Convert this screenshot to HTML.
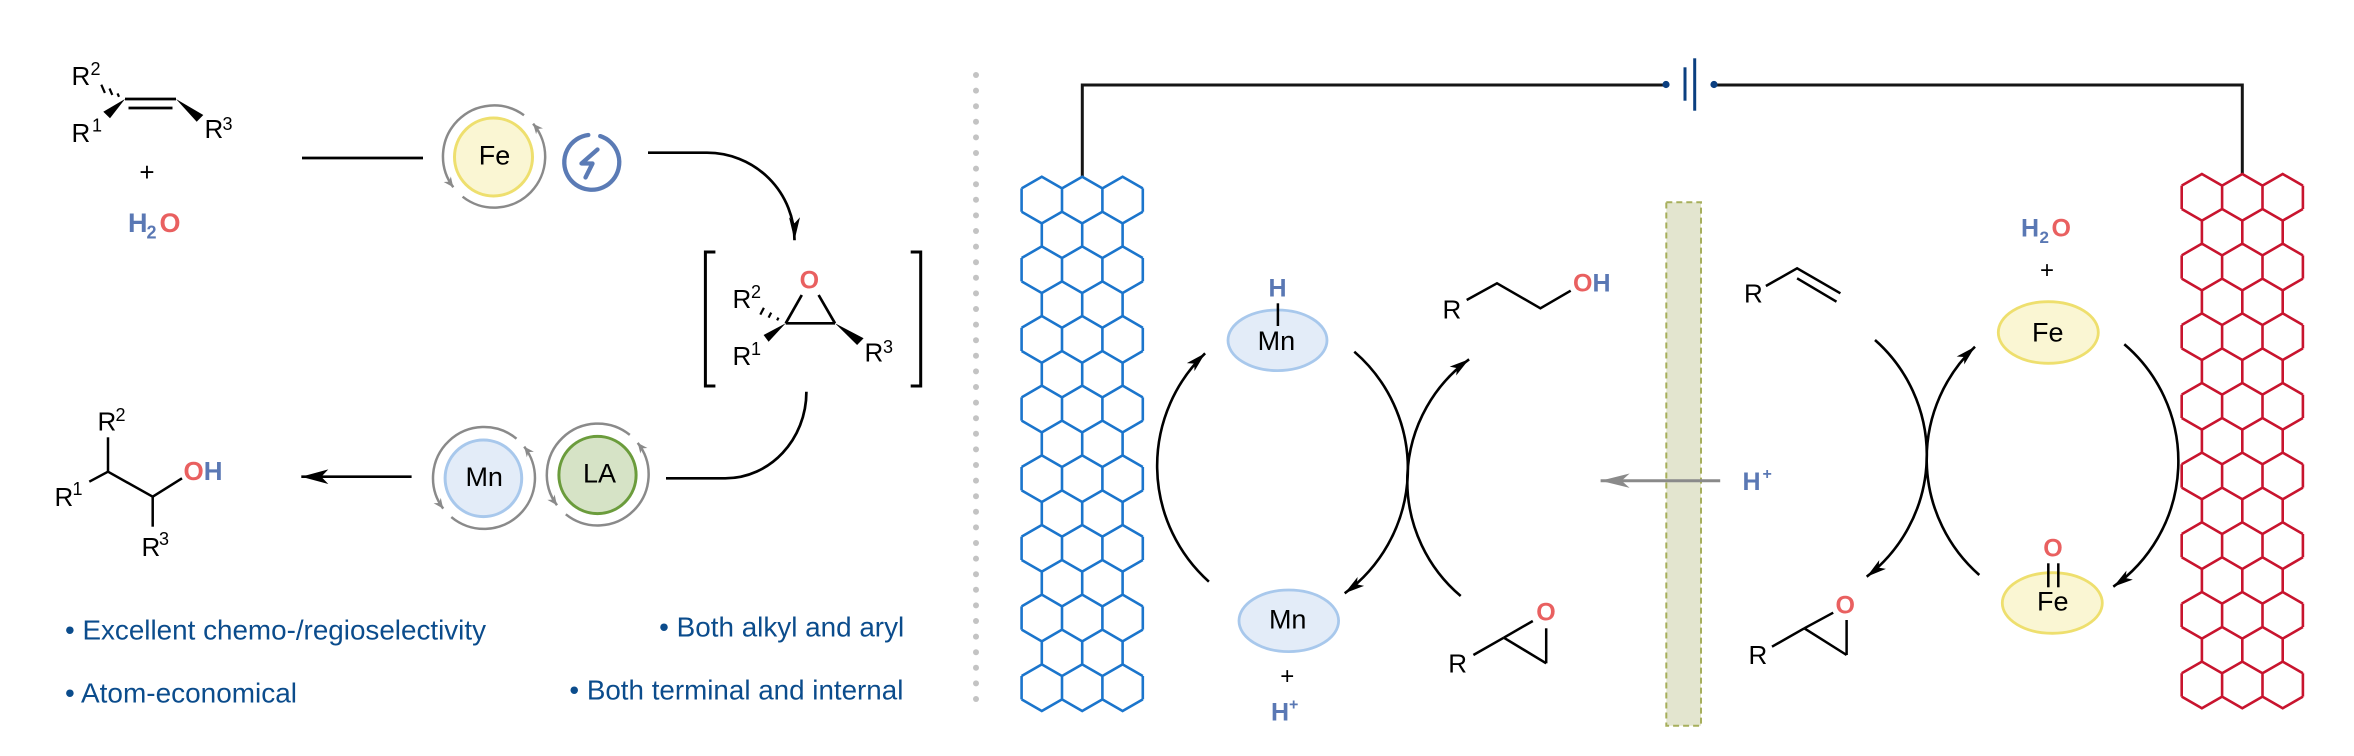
<!DOCTYPE html>
<html>
<head>
<meta charset="utf-8">
<style>
html,body{margin:0;padding:0;background:#fff;}
svg{display:block;}
text{font-family:"Liberation Sans",Arial,sans-serif;}
.b{font-weight:bold;}
</style>
</head>
<body>
<svg width="2354" height="756" viewBox="0 0 2354 756" xmlns="http://www.w3.org/2000/svg">
<defs>
  <marker id="ah" markerUnits="userSpaceOnUse" viewBox="-24 -8 28 16" refX="0" refY="0" markerWidth="28" markerHeight="16" orient="auto">
    <path d="M0,0 L-20,-5.5 L-15,0 L-20,5.5 Z" fill="#000"/>
  </marker>
  <marker id="ahL" markerUnits="userSpaceOnUse" viewBox="-30 -10 34 20" refX="0" refY="0" markerWidth="34" markerHeight="20" orient="auto">
    <path d="M0,0 L-27,-7.3 L-20,0 L-27,7.3 Z" fill="#000"/>
  </marker>
  <marker id="ahC" markerUnits="userSpaceOnUse" viewBox="-26 -8 30 16" refX="0" refY="0" markerWidth="30" markerHeight="16" orient="auto">
    <path d="M0,0 L-23,-5.5 L-17,0 L-23,5.5 Z" fill="#000"/>
  </marker>
  <marker id="ahG" markerUnits="userSpaceOnUse" viewBox="-32 -10 36 20" refX="0" refY="0" markerWidth="36" markerHeight="20" orient="auto">
    <path d="M0,0 L-29,-7.2 L-21,0 L-29,7.2 Z" fill="#8a8a8a"/>
  </marker>
  <marker id="ahS" markerUnits="userSpaceOnUse" viewBox="-13 -6 16 12" refX="0" refY="0" markerWidth="16" markerHeight="12" orient="auto">
    <path d="M0,0 L-10,-4.5 L-7,0 L-10,4.5 Z" fill="#8a8a8a"/>
  </marker>
  <path id="hr" d="M0,11.67 L20.2,0 L40.4,11.67 L60.6,0 L80.8,11.67 L101,0 L121.2,11.67
     M0,11.67 V35 M40.4,11.67 V35 M80.8,11.67 V35 M121.2,11.67 V35
     M0,35 L20.2,46.67 L40.4,35 L60.6,46.67 L80.8,35 L101,46.67 L121.2,35"/>
  <path id="hc" d="M20.2,46.67 V69.66 M60.6,46.67 V69.66 M101,46.67 V69.66"/>
</defs>

<!-- ================= LEFT PANEL ================= -->
<!-- alkene -->
<g stroke="#000" stroke-width="2.7" fill="none">
  <line x1="125" y1="99" x2="176" y2="99"/>
  <line x1="128.5" y1="108" x2="172.5" y2="108"/>
</g>
<polygon points="125,99 103.3,111.7 110,118.3" fill="#000"/>
<polygon points="176,99 196.7,121.7 203.3,115" fill="#000"/>
<g stroke="#000" stroke-width="2.2">
  <line x1="117.5" y1="93.4" x2="119" y2="96.8"/>
  <line x1="109.5" y1="88.5" x2="112.3" y2="94.9"/>
  <line x1="101.3" y1="84.7" x2="104.9" y2="92.9"/>
</g>
<text x="71.5" y="85" font-size="26">R</text><text x="90.5" y="75" font-size="18">2</text>
<text x="71.5" y="142" font-size="26">R</text><text x="92" y="131.7" font-size="18">1</text>
<text x="204.5" y="138" font-size="26">R</text><text x="222.5" y="130" font-size="18">3</text>
<text x="147" y="181" font-size="26" text-anchor="middle">+</text>
<text x="128" y="232" font-size="27" class="b" fill="#5a78b4">H</text>
<text x="146.5" y="238.5" font-size="18" class="b" fill="#5a78b4">2</text>
<text x="159.5" y="232" font-size="27" class="b" fill="#e96060">O</text>

<line x1="302" y1="158" x2="423" y2="158" stroke="#000" stroke-width="2.7"/>

<!-- Fe catalyst -->
<circle cx="493.5" cy="157" r="39" fill="#faf6d3" stroke="#eedf6e" stroke-width="3"/>
<g fill="none" stroke="#8a8a8a" stroke-width="2.5">
  <path d="M524,115.2 A51,51 0 0 0 453.3,187.2" marker-end="url(#ahS)"/>
  <path d="M462.6,196.7 A51,51 0 0 0 533.1,123.7" marker-end="url(#ahS)"/>
</g>
<text x="494.5" y="164.3" font-size="27" text-anchor="middle">Fe</text>

<!-- lightning -->
<g fill="none" stroke="#5b7bb5" stroke-width="4.3" stroke-linecap="round" stroke-linejoin="round">
  <path d="M600.2,136.1 A27.5,27.5 0 1 1 588.3,135.0"/>
  <path d="M597.5,149.5 L581.5,163.5 L592.5,163.5 L585.5,177.5"/>
</g>

<!-- arrow to epoxide -->
<path d="M648,152.7 H707 A87.5,87.5 0 0 1 794.5,240.2" fill="none" stroke="#000" stroke-width="2.7" marker-end="url(#ahC)"/>

<!-- brackets -->
<g fill="none" stroke="#000" stroke-width="3">
  <path d="M715.4,252 H705.4 V386 H715.4"/>
  <path d="M910.7,252 H920.7 V386 H910.7"/>
</g>
<!-- epoxide in bracket -->
<g stroke="#000" stroke-width="2.7" fill="none">
  <line x1="801.8" y1="295" x2="785.7" y2="323.3"/>
  <line x1="818.6" y1="295" x2="835" y2="323.3"/>
  <line x1="785.7" y1="323.3" x2="835" y2="323.3"/>
</g>
<polygon points="785.7,323.3 763.6,335 768.6,341.7" fill="#000"/>
<polygon points="835,323.3 857.1,345 863.6,338.3" fill="#000"/>
<g stroke="#000" stroke-width="2.2">
  <line x1="778.5" y1="317.6" x2="777.1" y2="320.4"/>
  <line x1="771.2" y1="312.6" x2="768.6" y2="317.6"/>
  <line x1="763.9" y1="307.8" x2="760.3" y2="314.6"/>
</g>
<text x="809.3" y="288.5" font-size="25" class="b" fill="#e96060" text-anchor="middle">O</text>
<text x="732.5" y="308" font-size="26">R</text><text x="751" y="298" font-size="18">2</text>
<text x="732.5" y="365" font-size="26">R</text><text x="751" y="355" font-size="18">1</text>
<text x="864.5" y="361.7" font-size="26">R</text><text x="883" y="353" font-size="18">3</text>

<!-- bottom curve -->
<path d="M806.4,391.7 C806.4,439.5 770,478.3 725.3,478.3 H666" fill="none" stroke="#000" stroke-width="2.7"/>

<!-- LA -->
<circle cx="597.5" cy="475" r="38.6" fill="#d6e3c6" stroke="#6b9c3c" stroke-width="3"/>
<g fill="none" stroke="#8a8a8a" stroke-width="2.5">
  <path d="M629.8,434.9 A51,51 0 0 0 557,505.2" marker-end="url(#ahS)"/>
  <path d="M565.8,514.3 A51,51 0 0 0 637.7,442.9" marker-end="url(#ahS)"/>
</g>
<text x="599.5" y="482.7" font-size="27" text-anchor="middle">LA</text>

<!-- Mn -->
<circle cx="483.4" cy="478.3" r="38.3" fill="#e3ecf8" stroke="#a8c8ec" stroke-width="3"/>
<g fill="none" stroke="#8a8a8a" stroke-width="2.5">
  <path d="M516.5,438.7 A51,51 0 0 0 443.2,508.6" marker-end="url(#ahS)"/>
  <path d="M451.3,517.1 A51,51 0 0 0 524.2,446.6" marker-end="url(#ahS)"/>
</g>
<text x="484.2" y="486" font-size="27" text-anchor="middle">Mn</text>

<!-- arrow to product -->
<line x1="411.6" y1="476.7" x2="301.3" y2="476.7" stroke="#000" stroke-width="2.7" marker-end="url(#ahL)"/>

<!-- product -->
<g stroke="#000" stroke-width="2.5" fill="none">
  <line x1="108" y1="437.3" x2="108" y2="471.7"/>
  <line x1="108" y1="471.7" x2="89.3" y2="481.7"/>
  <line x1="108" y1="471.7" x2="152.7" y2="496.7"/>
  <line x1="152.7" y1="496.7" x2="182" y2="478.3"/>
  <line x1="152.7" y1="496.7" x2="152.7" y2="526.7"/>
</g>
<text x="97.5" y="430.7" font-size="26">R</text><text x="115.5" y="421" font-size="18">2</text>
<text x="54.5" y="506" font-size="26">R</text><text x="72.5" y="495" font-size="18">1</text>
<text x="141.5" y="556" font-size="26">R</text><text x="159" y="545" font-size="18">3</text>
<text x="183.5" y="480" font-size="26" class="b"><tspan fill="#e96060">O</tspan><tspan fill="#5a78b4">H</tspan></text>

<!-- bullets -->
<g fill="#0b4c8c" font-size="27.5">
  <text x="65" y="639.3" textLength="421" lengthAdjust="spacingAndGlyphs">• Excellent chemo-/regioselectivity</text>
  <text x="65" y="702.7" textLength="232" lengthAdjust="spacingAndGlyphs">• Atom-economical</text>
  <text x="659.2" y="636.7" textLength="245" lengthAdjust="spacingAndGlyphs">• Both alkyl and aryl</text>
  <text x="569.4" y="699.3" textLength="334" lengthAdjust="spacingAndGlyphs">• Both terminal and internal</text>
</g>

<!-- dotted divider -->
<g fill="#c3c3c3">
<circle cx="976" cy="75" r="3"/><circle cx="976" cy="90.6" r="3"/><circle cx="976" cy="106.2" r="3"/><circle cx="976" cy="121.8" r="3"/><circle cx="976" cy="137.4" r="3"/><circle cx="976" cy="153" r="3"/><circle cx="976" cy="168.6" r="3"/><circle cx="976" cy="184.2" r="3"/><circle cx="976" cy="199.8" r="3"/><circle cx="976" cy="215.4" r="3"/><circle cx="976" cy="231" r="3"/><circle cx="976" cy="246.6" r="3"/><circle cx="976" cy="262.2" r="3"/><circle cx="976" cy="277.8" r="3"/><circle cx="976" cy="293.4" r="3"/><circle cx="976" cy="309" r="3"/><circle cx="976" cy="324.6" r="3"/><circle cx="976" cy="340.2" r="3"/><circle cx="976" cy="355.8" r="3"/><circle cx="976" cy="371.4" r="3"/><circle cx="976" cy="387" r="3"/><circle cx="976" cy="402.6" r="3"/><circle cx="976" cy="418.2" r="3"/><circle cx="976" cy="433.8" r="3"/><circle cx="976" cy="449.4" r="3"/><circle cx="976" cy="465" r="3"/><circle cx="976" cy="480.6" r="3"/><circle cx="976" cy="496.2" r="3"/><circle cx="976" cy="511.8" r="3"/><circle cx="976" cy="527.4" r="3"/><circle cx="976" cy="543" r="3"/><circle cx="976" cy="558.6" r="3"/><circle cx="976" cy="574.2" r="3"/><circle cx="976" cy="589.8" r="3"/><circle cx="976" cy="605.4" r="3"/><circle cx="976" cy="621" r="3"/><circle cx="976" cy="636.6" r="3"/><circle cx="976" cy="652.2" r="3"/><circle cx="976" cy="667.8" r="3"/><circle cx="976" cy="683.4" r="3"/><circle cx="976" cy="699" r="3"/>
</g>

<!-- ================= RIGHT PANEL ================= -->
<!-- wires -->
<g fill="none" stroke="#151515" stroke-width="3">
  <path d="M1082.3,177 V85 H1666"/>
  <path d="M1714,85 H2242.3 V174.5"/>
</g>
<!-- battery -->
<g stroke="#0b3f80" stroke-width="3">
  <line x1="1685" y1="67.3" x2="1685" y2="100.7"/>
  <line x1="1694.7" y1="58.3" x2="1694.7" y2="110.7"/>
</g>
<circle cx="1666" cy="84.5" r="3.6" fill="#0b3f80"/>
<circle cx="1714" cy="84.5" r="3.6" fill="#0b3f80"/>

<!-- blue electrode -->
<g fill="none" stroke="#1b75cc" stroke-width="2.6" stroke-linejoin="miter">
  <use href="#hr" transform="translate(1021.6,176.7)"/><use href="#hc" transform="translate(1021.6,176.7)"/>
  <use href="#hr" transform="translate(1021.6,246.36)"/><use href="#hc" transform="translate(1021.6,246.36)"/>
  <use href="#hr" transform="translate(1021.6,316.02)"/><use href="#hc" transform="translate(1021.6,316.02)"/>
  <use href="#hr" transform="translate(1021.6,385.68)"/><use href="#hc" transform="translate(1021.6,385.68)"/>
  <use href="#hr" transform="translate(1021.6,455.34)"/><use href="#hc" transform="translate(1021.6,455.34)"/>
  <use href="#hr" transform="translate(1021.6,525)"/><use href="#hc" transform="translate(1021.6,525)"/>
  <use href="#hr" transform="translate(1021.6,594.66)"/><use href="#hc" transform="translate(1021.6,594.66)"/>
  <use href="#hr" transform="translate(1021.6,664.32)"/>
</g>
<!-- red electrode -->
<g fill="none" stroke="#c8142e" stroke-width="2.6" stroke-linejoin="miter">
  <use href="#hr" transform="translate(2181.7,174)"/><use href="#hc" transform="translate(2181.7,174)"/>
  <use href="#hr" transform="translate(2181.7,243.66)"/><use href="#hc" transform="translate(2181.7,243.66)"/>
  <use href="#hr" transform="translate(2181.7,313.32)"/><use href="#hc" transform="translate(2181.7,313.32)"/>
  <use href="#hr" transform="translate(2181.7,382.98)"/><use href="#hc" transform="translate(2181.7,382.98)"/>
  <use href="#hr" transform="translate(2181.7,452.64)"/><use href="#hc" transform="translate(2181.7,452.64)"/>
  <use href="#hr" transform="translate(2181.7,522.3)"/><use href="#hc" transform="translate(2181.7,522.3)"/>
  <use href="#hr" transform="translate(2181.7,591.96)"/><use href="#hc" transform="translate(2181.7,591.96)"/>
  <use href="#hr" transform="translate(2181.7,661.62)"/>
</g>

<!-- membrane -->
<rect x="1666.3" y="202.3" width="34.7" height="523.4" fill="#e3e5cf" stroke="#a7af5c" stroke-width="2" stroke-dasharray="6,4"/>
<!-- H+ arrow -->
<line x1="1720.2" y1="480.7" x2="1600.6" y2="480.7" stroke="#8a8a8a" stroke-width="3" marker-end="url(#ahG)"/>
<text x="1742.5" y="490" font-size="25" class="b" fill="#5a78b4">H</text>
<text x="1762.5" y="479" font-size="16" class="b" fill="#5a78b4">+</text>

<!-- Mn-H -->
<ellipse cx="1277.5" cy="340.3" rx="49.5" ry="30.3" fill="#e3ecf8" stroke="#a8c8ec" stroke-width="2.8"/>
<line x1="1277.9" y1="303.3" x2="1277.9" y2="326" stroke="#000" stroke-width="2.5"/>
<text x="1277.5" y="296.7" font-size="25" class="b" fill="#5a78b4" text-anchor="middle">H</text>
<text x="1276.4" y="350" font-size="27" text-anchor="middle">Mn</text>

<!-- Mn -->
<ellipse cx="1288.8" cy="620.8" rx="49.8" ry="30.8" fill="#e3ecf8" stroke="#a8c8ec" stroke-width="2.8"/>
<text x="1287.7" y="628.3" font-size="27" text-anchor="middle">Mn</text>
<text x="1287.2" y="684" font-size="24" text-anchor="middle">+</text>
<text x="1271" y="720.7" font-size="25" class="b" fill="#5a78b4">H</text>
<text x="1289" y="709.5" font-size="16" class="b" fill="#5a78b4">+</text>

<!-- alcohol -->
<polyline points="1466.7,300 1497,283.3 1540.4,308.3 1570.7,290.7" fill="none" stroke="#000" stroke-width="2.5"/>
<text x="1442.5" y="318.3" font-size="26">R</text>
<text x="1573" y="291.7" font-size="25" class="b"><tspan fill="#e96060">O</tspan><tspan fill="#5a78b4">H</tspan></text>

<!-- epoxide left -->
<g stroke="#000" stroke-width="2.5" fill="none">
  <line x1="1473.4" y1="655" x2="1503.8" y2="637.7"/>
  <line x1="1503.8" y1="637.7" x2="1532.8" y2="621"/>
  <line x1="1503.8" y1="637.7" x2="1546.2" y2="663.3"/>
  <line x1="1546.2" y1="628.3" x2="1546.2" y2="663.3"/>
</g>
<text x="1448.3" y="672.7" font-size="26">R</text>
<text x="1546" y="620.7" font-size="25" class="b" fill="#e96060" text-anchor="middle">O</text>

<!-- alkene right -->
<g stroke="#000" stroke-width="2.5" fill="none">
  <polyline points="1765.9,286 1797.1,268.3 1840.4,293.3"/>
  <line x1="1797.1" y1="278.3" x2="1836.5" y2="301.7"/>
</g>
<text x="1744" y="302.7" font-size="26">R</text>

<!-- H2O right -->
<text x="2021" y="236.7" font-size="25" class="b" fill="#5a78b4">H</text>
<text x="2039.5" y="243" font-size="17" class="b" fill="#5a78b4">2</text>
<text x="2051.5" y="236.7" font-size="25" class="b" fill="#e96060">O</text>
<text x="2047" y="278" font-size="24" text-anchor="middle">+</text>

<!-- Fe top -->
<ellipse cx="2048.3" cy="332.5" rx="50" ry="30.8" fill="#faf6d3" stroke="#eedf6e" stroke-width="2.8"/>
<text x="2047.8" y="341.7" font-size="27" text-anchor="middle">Fe</text>

<!-- Fe=O -->
<ellipse cx="2052.3" cy="603" rx="50" ry="30.3" fill="#faf6d3" stroke="#eedf6e" stroke-width="2.8"/>
<g stroke="#000" stroke-width="2.5">
  <line x1="2048.3" y1="563.3" x2="2048.3" y2="587.3"/>
  <line x1="2058.3" y1="563.3" x2="2058.3" y2="587.3"/>
</g>
<text x="2053" y="556.7" font-size="25" class="b" fill="#e96060" text-anchor="middle">O</text>
<text x="2052.8" y="610.7" font-size="27" text-anchor="middle">Fe</text>

<!-- epoxide right -->
<g stroke="#000" stroke-width="2.5" fill="none">
  <line x1="1772" y1="646.7" x2="1804.3" y2="628.3"/>
  <line x1="1804.3" y1="628.3" x2="1833.2" y2="612.7"/>
  <line x1="1804.3" y1="628.3" x2="1846.6" y2="655"/>
  <line x1="1846.6" y1="620" x2="1846.6" y2="655"/>
</g>
<text x="1748.5" y="664" font-size="26">R</text>
<text x="1845.2" y="613.3" font-size="25" class="b" fill="#e96060" text-anchor="middle">O</text>

<!-- cycle arcs -->
<g fill="none" stroke="#000" stroke-width="2.6">
  <path d="M1208.9,581.7 A155.8,155.8 0 0 1 1205.1,353.3" marker-end="url(#ah)"/>
  <path d="M1354.3,351.7 A154.5,154.5 0 0 1 1344.7,593.3" marker-end="url(#ah)"/>
  <path d="M1460.7,596 A150.6,150.6 0 0 1 1469.1,359.3" marker-end="url(#ah)"/>
  <path d="M1875,340 A153.4,153.4 0 0 1 1866.7,576.7" marker-end="url(#ah)"/>
  <path d="M1979.3,575 A154.4,154.4 0 0 1 1975,346.7" marker-end="url(#ah)"/>
  <path d="M2124.3,344.3 A153.5,153.5 0 0 1 2113.3,586.7" marker-end="url(#ah)"/>
</g>
</svg>
</body>
</html>
